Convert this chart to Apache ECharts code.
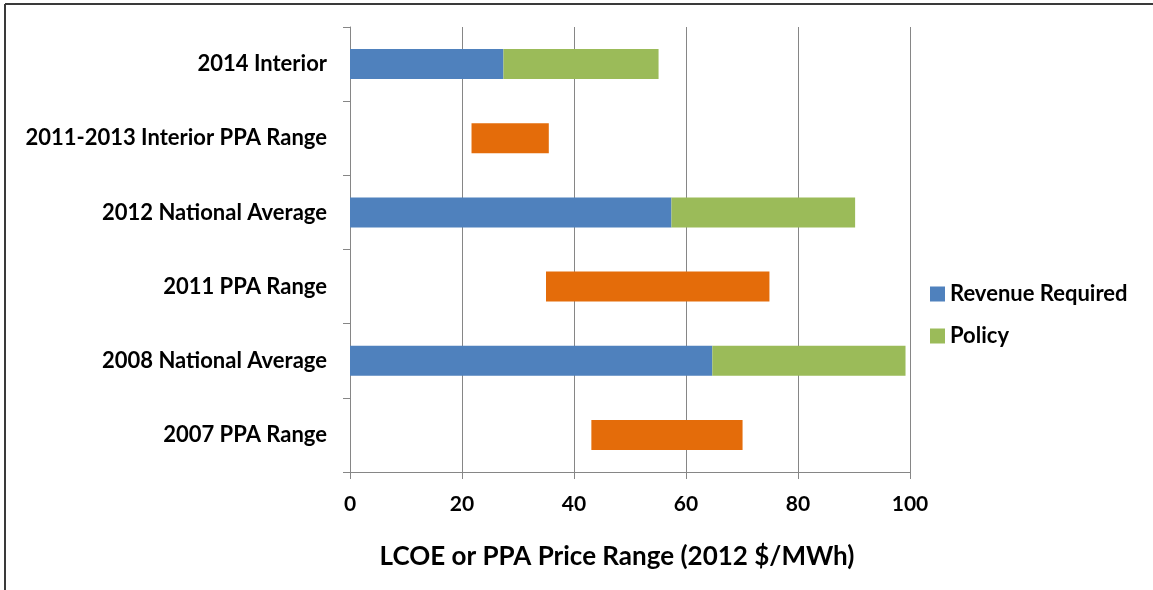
<!DOCTYPE html>
<html>
<head>
<meta charset="utf-8">
<script src="https://cdn.jsdelivr.net/npm/echarts@6/dist/echarts.min.js"></script>
<style>
  html, body { margin: 0; padding: 0; background: #fff; }
  #chart { width: 1153px; height: 590px; }
</style>
</head>
<body>
<div id="chart"></div>
<script>
// Cost categories, top to bottom
const categories = [
  '2014 Interior',
  '2011-2013 Interior PPA Range',
  '2012 National Average',
  '2011 PPA Range',
  '2008 National Average',
  '2007 PPA Range'
];

// LCOE components ($/MWh)
const revenueRequired = [27.4, null, 57.4, null, 64.7, null];
const policy          = [27.7, null, 32.8, null, 34.5, null];

// PPA price ranges ($/MWh): low and high ends
const ppaLow  = [null, 21.7, null, 35.0, null, 43.1];
const ppaHigh = [null, 35.5, null, 74.9, null, 70.1];

const xTicks = [0, 20, 40, 60, 80, 100];

const ppaSpan = ppaHigh.map((h, i) => (h == null ? null : +(h - ppaLow[i]).toFixed(2)));

const FONT = 'Lato, "Open Sans", sans-serif';
const GRAY = '#868686';

const chart = echarts.init(document.getElementById('chart'));

chart.setOption({
  animation: false,
  textStyle: { fontFamily: FONT },
  graphic: [
    { type: 'line', shape: { x1: 5, y1: 4, x2: 1153, y2: 4 }, style: { stroke: '#3a3a3a', lineWidth: 2 } },
    { type: 'line', shape: { x1: 5, y1: 4, x2: 5, y2: 590 }, style: { stroke: '#3a3a3a', lineWidth: 2 } }
  ],
  grid: { left: 350, right: 243, top: 27, bottom: 118, containLabel: false },
  legend: {
    orient: 'vertical',
    left: 930,
    top: 283,
    padding: 0,
    itemWidth: 15,
    itemHeight: 15,
    itemGap: 20,
    icon: 'rect',
    data: ['Revenue Required', 'Policy'],
    textStyle: { fontFamily: FONT, fontSize: 22, fontWeight: 'bold', color: '#000', padding: [0, 0, 0, 0] }
  },
  xAxis: {
    type: 'value',
    min: xTicks[0],
    max: xTicks[xTicks.length - 1],
    interval: 20,
    name: 'LCOE or PPA Price Range (2012 $/MWh)',
    nameLocation: 'middle',
    nameGap: 72,
    nameTextStyle: { fontFamily: FONT, fontSize: 26, fontWeight: 'bold', color: '#000', padding: [0, 26, 0, 0] },
    axisLine: { show: true, lineStyle: { color: GRAY, width: 1 } },
    axisTick: { show: true, length: 7, lineStyle: { color: GRAY } },
    axisLabel: { margin: 22, fontFamily: FONT, fontSize: 21, fontWeight: 'bold', color: '#000' },
    splitLine: { show: true, lineStyle: { color: GRAY, width: 1 } }
  },
  yAxis: {
    type: 'category',
    inverse: true,
    data: categories,
    axisLine: { show: true, lineStyle: { color: GRAY, width: 1 } },
    axisTick: { show: true, length: 7, alignWithLabel: false, lineStyle: { color: GRAY } },
    axisLabel: { margin: 23, fontFamily: FONT, fontSize: 22, fontWeight: 'bold', color: '#000' },
    splitLine: { show: false }
  },
  series: [
    {
      name: 'Revenue Required',
      type: 'bar',
      stack: 'lcoe',
      barWidth: 30,
      data: revenueRequired,
      itemStyle: { color: '#4F81BD' }
    },
    {
      name: 'Policy',
      type: 'bar',
      stack: 'lcoe',
      barWidth: 30,
      data: policy,
      itemStyle: { color: '#9BBB59' }
    },
    {
      name: 'PPA base',
      type: 'bar',
      stack: 'ppa',
      barWidth: 30,
      barGap: '-100%',
      data: ppaLow,
      itemStyle: { color: 'transparent' },
      emphasis: { disabled: true },
      tooltip: { show: false }
    },
    {
      name: 'PPA Range',
      type: 'bar',
      stack: 'ppa',
      barWidth: 30,
      barGap: '-100%',
      data: ppaSpan,
      itemStyle: { color: '#E46C0A' }
    }
  ]
});
</script>
</body>
</html>
